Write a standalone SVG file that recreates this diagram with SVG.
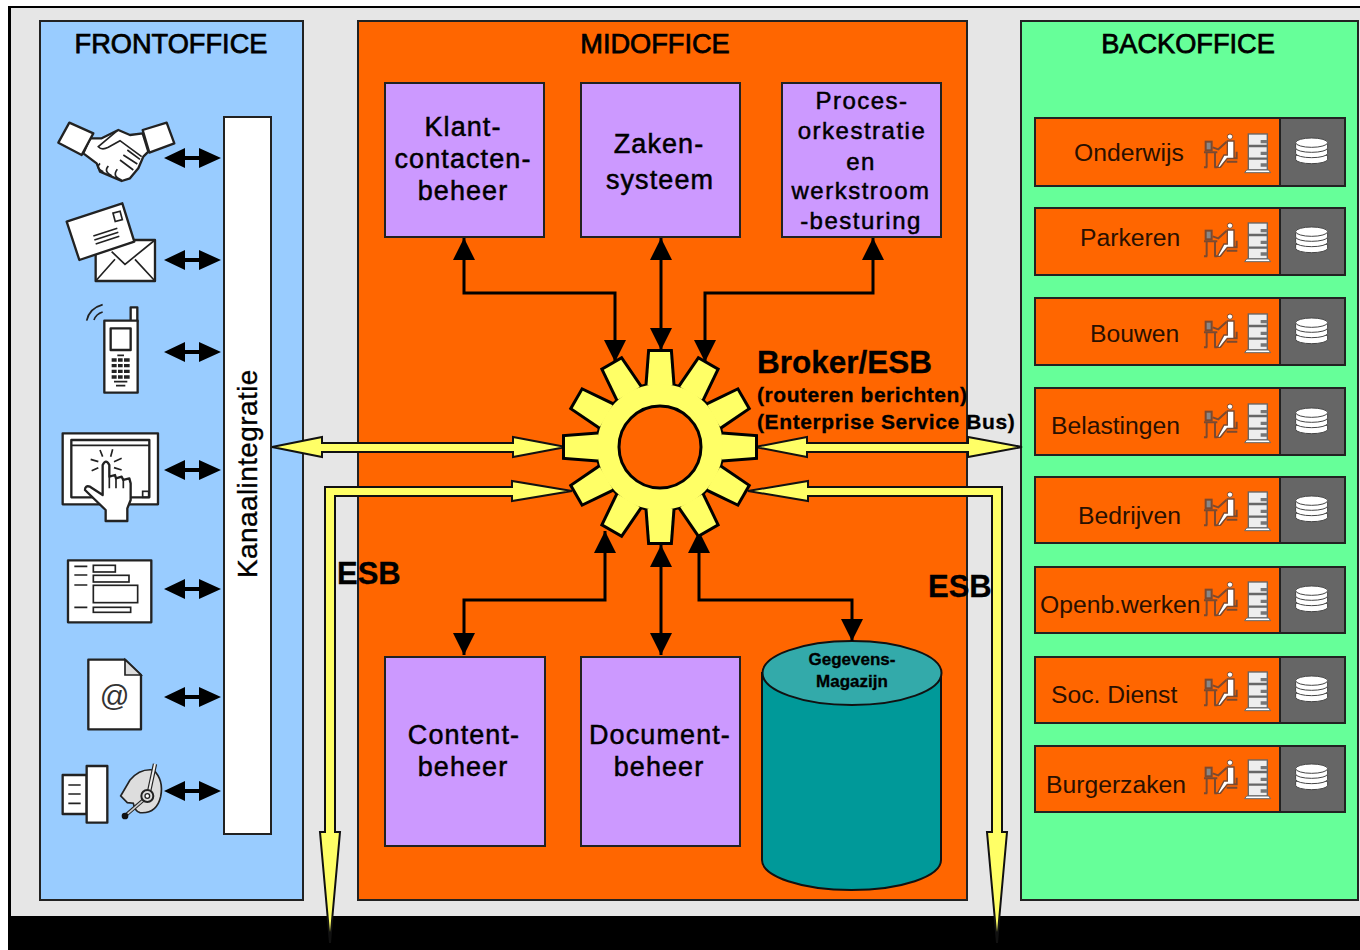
<svg xmlns="http://www.w3.org/2000/svg" xmlns:xlink="http://www.w3.org/1999/xlink" width="1360" height="950" viewBox="0 0 1360 950">
<style>
text{font-family:"Liberation Sans",Arial,sans-serif;fill:#000}
.panel{stroke:#222;stroke-width:2}
.box{fill:#cc99ff;stroke:#222;stroke-width:2}
.title{font-size:27.2px;stroke:#000;stroke-width:.75;text-anchor:middle}
.lbl{font-size:27px;stroke:#000;stroke-width:.5;letter-spacing:1.1px;text-anchor:middle}
.lbls{font-size:24px;stroke:#000;stroke-width:.5;letter-spacing:1.5px;text-anchor:middle}
.row{font-size:24.7px;fill:#2a1000}
.b{font-weight:bold;stroke:#000;stroke-width:.3}
.or{fill:#ff6600;stroke:#222;stroke-width:2}
.gr{fill:#666;stroke:#222;stroke-width:2}
.wire{fill:none;stroke:#000;stroke-width:3;marker-start:url(#head);marker-end:url(#head)}
.yel{fill:#ffff66;stroke:#111;stroke-width:2;stroke-linejoin:miter}
.ic{fill:#fff;stroke:#222;stroke-width:7;stroke-linejoin:round}
.thin{fill:none;stroke:#222;stroke-width:5}
</style>
<defs>
<marker id="head" markerUnits="userSpaceOnUse" markerWidth="24" markerHeight="24" refX="22" refY="11" orient="auto-start-reverse" viewBox="0 0 24 24"><path d="M0 0L22 11L0 22Z" fill="#000"/></marker>
<path id="dbl" d="M0 0L21-10V-2H35V-10L57 0L35 10V2H21V10Z" fill="#000"/>
<polygon id="tooth" points="-12.500,-62 -10,-95 10,-95 12.500,-62"/>
<g id="teeth">
<use href="#tooth"/><use href="#tooth" transform="rotate(30)"/><use href="#tooth" transform="rotate(60)"/><use href="#tooth" transform="rotate(90)"/><use href="#tooth" transform="rotate(120)"/><use href="#tooth" transform="rotate(150)"/><use href="#tooth" transform="rotate(180)"/><use href="#tooth" transform="rotate(210)"/><use href="#tooth" transform="rotate(240)"/><use href="#tooth" transform="rotate(270)"/><use href="#tooth" transform="rotate(300)"/><use href="#tooth" transform="rotate(330)"/>
</g>
<g id="staff" transform="translate(1030 110) scale(.3333)">
<g fill="none" stroke="#7a4a30" stroke-width="6">
<path d="M522 127H562M530 127V172M555 127V172M522 172H532M553 172H562"/>
<rect x="527" y="95" width="18" height="26" fill="#888"/>
<path d="M590 95L565 118L548 112M610 95V145M590 145L570 172M590 145H620V125M590 155H622"/>
</g>
<path d="M592 93H612V145H592L570 172H562L582 135H592Z" fill="#fff" stroke="#7a4a30" stroke-width="4"/>
<circle cx="600" cy="80" r="8" fill="#fff" stroke="#7a4a30" stroke-width="3"/>
<rect x="655" y="72" width="57" height="108" fill="#eee" stroke="#666" stroke-width="4"/>
<path d="M655 108H712M655 146H712" stroke="#666" stroke-width="7"/>
<path d="M692 90h20v10h-20zM692 125h20v10h-20zM692 160h20v10h-20z" fill="#777"/>
<path d="M650 180H716L722 188H644Z" fill="#fff" stroke="#666" stroke-width="3"/>
<g fill="#fff" stroke="#444" stroke-width="3">
<path d="M797 136V148A48 13 0 0 0 893 148V136Z"/>
<path d="M797 118V130A48 13 0 0 0 893 130V118Z"/>
<path d="M797 100V114A48 13 0 0 0 893 114V100Z"/>
<ellipse cx="845" cy="98" rx="48" ry="14"/>
</g>
</g>
</defs>

<rect width="1360" height="950" fill="#fff"/>
<rect x="8" y="6" width="1352" height="944" fill="#000"/>
<rect x="11" y="8" width="1349" height="908" fill="#e6e6e6"/>

<g id="frontoffice">
<rect class="panel" x="40" y="21" width="263" height="879" fill="#99ccff"/>
<text class="title" x="171" y="53">FRONTOFFICE</text>
</g>
<g id="midoffice">
<rect class="panel" x="358" y="21" width="609" height="879" fill="#ff6600"/>
<text class="title" x="655" y="53">MIDOFFICE</text>
</g>
<g id="backoffice">
<rect class="panel" x="1021" y="21" width="337" height="879" fill="#66ff99"/>
<text class="title" x="1188" y="53">BACKOFFICE</text>
</g>

<g id="kanaalintegratie">
<rect x="224" y="117" width="47" height="717" fill="#fff" stroke="#222" stroke-width="2"/>
<text transform="translate(257 578) rotate(-90)" font-size="28" letter-spacing=".4" stroke="#000" stroke-width=".35">Kanaalintegratie</text>
</g>

<g id="icon-handshake" transform="translate(40 100) scale(.3333)">
<path class="ic" d="M150 115H185L235 90L270 105L308 100L325 155L310 170L295 205L270 235L245 243L215 230L180 215L170 190L130 160Z"/>
<path class="ic" d="M88 68L160 100L125 165L55 128Z"/>
<path class="ic" d="M308 90L380 68L403 130L328 158Z"/>
<path class="thin" d="M232 92L175 140Q185 152 205 142L240 122L305 170M262 150L300 178M250 165L292 192M240 180L280 210M180 190Q165 205 190 215M205 198Q190 215 215 227M232 208Q215 230 245 240"/>
</g>
<g id="icon-mail" transform="translate(40 100) scale(.3333)">
<rect class="ic" x="167" y="420" width="178" height="123"/>
<path class="thin" d="M167 543L225 478M345 543L285 478M215 455L255 493L345 420"/>
<path class="ic" d="M80 365L247 310L283 425L118 480Z"/>
<rect class="thin" x="222" y="336" width="22" height="26" transform="rotate(-15 233 349)"/>
<path class="thin" d="M160 408L232 385M163 420L235 397M167 432L238 409"/>
</g>
<g id="icon-phone" transform="translate(40 100) scale(.3333)">
<rect class="ic" x="272" y="622" width="20" height="42" fill="#ddd"/>
<rect class="ic" x="193" y="662" width="100" height="216"/>
<rect class="ic" x="212" y="685" width="60" height="65"/>
<path d="M215 775h54v10h-54zM215 792h54v10h-54zM215 809h54v10h-54zM215 826h54v10h-54z" fill="#222"/>
<path d="M232 768V838M250 768V838" stroke="#fff" stroke-width="4"/>
<path class="thin" d="M222 845H262M228 857H256M232 766H252"/>
<path class="thin" d="M140 662Q148 625 188 614M162 660Q168 642 188 636"/>
</g>
<g id="icon-touch" transform="translate(40 420) scale(.3333)">
<rect class="ic" x="68" y="40" width="286" height="213"/>
<rect class="ic" x="94" y="60" width="234" height="172"/>
<path class="thin" d="M94 76H328"/>
<rect class="thin" x="308" y="214" width="18" height="18"/>
<path class="ic" d="M188 135Q198 115 208 135V170L225 165L228 175L245 170L250 180L268 175L272 190V240L262 265V303H197V270L135 210Q135 195 150 200L188 225Z"/>
<path class="thin" d="M180 90L188 110M218 88L212 110M152 118L175 125M245 115L222 125M155 152L175 143M245 150L222 143M228 175V205M250 180V205M208 170V205"/>
</g>
<g id="icon-form" transform="translate(40 420) scale(.3333)">
<rect class="ic" x="84" y="421" width="250" height="186"/>
<path class="thin" d="M103 439H142M103 465H142M103 495H142M103 562H142"/>
<rect class="thin" x="160" y="436" width="66" height="20"/>
<rect class="thin" x="160" y="466" width="107" height="20"/>
<rect class="thin" x="160" y="496" width="133" height="52"/>
<rect class="thin" x="160" y="562" width="112" height="15"/>
</g>
<g id="icon-at" transform="translate(40 420) scale(.3333)">
<path class="ic" d="M145 719H255L303 765V928H145Z"/>
<path d="M255 719V765H303Z" fill="#ddd" stroke="#222" stroke-width="5"/>
<text x="224" y="857" font-size="88" text-anchor="middle" style="fill:#333">@</text>
</g>
<g id="icon-fax-headset" transform="translate(40 420) scale(.3333)">
<rect class="ic" x="68" y="1065" width="72" height="117"/>
<rect class="ic" x="140" y="1038" width="62" height="170"/>
<path class="thin" d="M85 1095H122M85 1122H122M85 1150H122" stroke-width="7"/>
<path d="M242 1128L270 1080Q300 1045 340 1050Q372 1080 362 1130Q350 1182 300 1178Q285 1175 280 1150L262 1148Z" fill="#ddd" stroke="#222" stroke-width="5"/>
<path d="M345 1032L325 1125" stroke="#222" stroke-width="13"/><path d="M345 1032L325 1125" stroke="#eee" stroke-width="6"/>
<path d="M322 1130L255 1188" stroke="#222" stroke-width="11"/><path d="M322 1130L260 1184" stroke="#ccc" stroke-width="5"/>
<circle cx="322" cy="1128" r="18" fill="#ddd" stroke="#222" stroke-width="6"/>
<circle cx="322" cy="1128" r="7" fill="#fff" stroke="#222" stroke-width="4"/>
<circle cx="255" cy="1188" r="10" fill="#111"/>
</g>

<g id="channel-arrows">
<use href="#dbl" x="164" y="158"/><use href="#dbl" x="164" y="260"/><use href="#dbl" x="164" y="352"/><use href="#dbl" x="164" y="470"/><use href="#dbl" x="164" y="589"/><use href="#dbl" x="164" y="697"/><use href="#dbl" x="164" y="791"/>
</g>

<g id="klantcontacten">
<rect class="box" x="385" y="83" width="159" height="154"/>
<text class="lbl" x="463" y="136">Klant-</text><text class="lbl" x="463" y="168">contacten-</text><text class="lbl" x="463" y="200">beheer</text>
</g>
<g id="zakensysteem">
<rect class="box" x="581" y="83" width="159" height="154"/>
<text class="lbl" x="659" y="153">Zaken-</text><text class="lbl" x="660" y="189">systeem</text>
</g>
<g id="procesorkestratie">
<rect class="box" x="782" y="83" width="159" height="154"/>
<text class="lbls" x="862" y="109">Proces-</text><text class="lbls" x="862" y="139">orkestratie</text><text class="lbls" x="861" y="170">en</text><text class="lbls" x="861" y="199">werkstroom</text><text class="lbls" x="861" y="229">-besturing</text>
</g>
<g id="contentbeheer">
<rect class="box" x="385" y="657" width="160" height="189"/>
<text class="lbl" x="464" y="744">Content-</text><text class="lbl" x="463" y="776">beheer</text>
</g>
<g id="documentbeheer">
<rect class="box" x="581" y="657" width="159" height="189"/>
<text class="lbl" x="660" y="744">Document-</text><text class="lbl" x="659" y="776">beheer</text>
</g>
<g id="gegevensmagazijn">
<path d="M762 673V860A89.500 30 0 0 0 941 860V673Z" fill="#009999" stroke="#111" stroke-width="2"/>
<ellipse cx="852" cy="673" rx="89.500" ry="32" fill="#33aaaa" stroke="#111" stroke-width="2"/>
<text class="b" x="852" y="665" font-size="17" text-anchor="middle">Gegevens-</text>
<text class="b" x="852" y="687" font-size="17" text-anchor="middle">Magazijn</text>
</g>

<g id="connectors">
<path class="wire" d="M464 238V293H615V362"/>
<path class="wire" d="M661 238V350"/>
<path class="wire" d="M873 238V293H705V362"/>
<path class="wire" d="M605 531V600H464V655"/>
<path class="wire" d="M661 545V655"/>
<path class="wire" d="M699 531V600H852V641"/>
<polygon class="yel" points="272,447 322,437 322,443 513,443 513,437 566,447 513,457 513,452 322,452 322,457"/>
<polygon class="yel" points="755,447 807,437 807,443 968,443 968,437 1022,447 968,457 968,452 807,452 807,457"/>
<polygon class="yel" points="572,491 512,481 512,487 325,487 325,832 320,832 330,943 340,832 335,832 335,496 512,496 512,501"/>
<polygon class="yel" points="748,491 808,481 808,487 1002,487 1002,832 1007,832 997,943 987,832 992,832 992,496 808,496 808,501"/>
</g>

<g id="broker" transform="translate(660 447)">
<use href="#teeth" fill="#000" stroke="#000" stroke-width="6" stroke-linejoin="miter"/>
<circle r="65" fill="#000"/>
<use href="#teeth" fill="#ffff66"/>
<circle r="63" fill="#ffff66"/>
<circle r="41" fill="#ff6600" stroke="#000" stroke-width="3"/>
</g>
<g id="broker-label">
<text class="b" x="757" y="373" font-size="31.500">Broker/ESB</text>
<text class="b" x="757" y="402" font-size="21" letter-spacing=".55">(routeren berichten)</text>
<text class="b" x="757" y="429" font-size="21" letter-spacing=".6">(Enterprise Service Bus)</text>
</g>
<text class="b" x="337" y="584" font-size="31">ESB</text>
<text class="b" x="928" y="597" font-size="31">ESB</text>

<g id="onderwijs"><rect class="or" x="1035" y="118" width="245" height="68"/><rect class="gr" x="1280" y="118" width="65" height="68"/><text class="row" x="1074" y="161">Onderwijs</text><use href="#staff"/></g>
<g id="parkeren"><rect class="or" x="1035" y="208" width="245" height="67"/><rect class="gr" x="1280" y="208" width="65" height="67"/><text class="row" x="1080" y="246">Parkeren</text><use href="#staff" y="89"/></g>
<g id="bouwen"><rect class="or" x="1035" y="298" width="245" height="67"/><rect class="gr" x="1280" y="298" width="65" height="67"/><text class="row" x="1090" y="342">Bouwen</text><use href="#staff" y="180"/></g>
<g id="belastingen"><rect class="or" x="1035" y="388" width="245" height="67"/><rect class="gr" x="1280" y="388" width="65" height="67"/><text class="row" x="1051" y="434">Belastingen</text><use href="#staff" y="270"/></g>
<g id="bedrijven"><rect class="or" x="1035" y="477" width="245" height="66"/><rect class="gr" x="1280" y="477" width="65" height="66"/><text class="row" x="1078" y="524">Bedrijven</text><use href="#staff" y="358"/></g>
<g id="openbwerken"><rect class="or" x="1035" y="567" width="245" height="66"/><rect class="gr" x="1280" y="567" width="65" height="66"/><text class="row" x="1040" y="613">Openb.werken</text><use href="#staff" y="448"/></g>
<g id="socdienst"><rect class="or" x="1035" y="657" width="245" height="66"/><rect class="gr" x="1280" y="657" width="65" height="66"/><text class="row" x="1051" y="703">Soc. Dienst</text><use href="#staff" y="538"/></g>
<g id="burgerzaken"><rect class="or" x="1035" y="746" width="245" height="66"/><rect class="gr" x="1280" y="746" width="65" height="66"/><text class="row" x="1046" y="793">Burgerzaken</text><use href="#staff" y="626"/></g>
</svg>
